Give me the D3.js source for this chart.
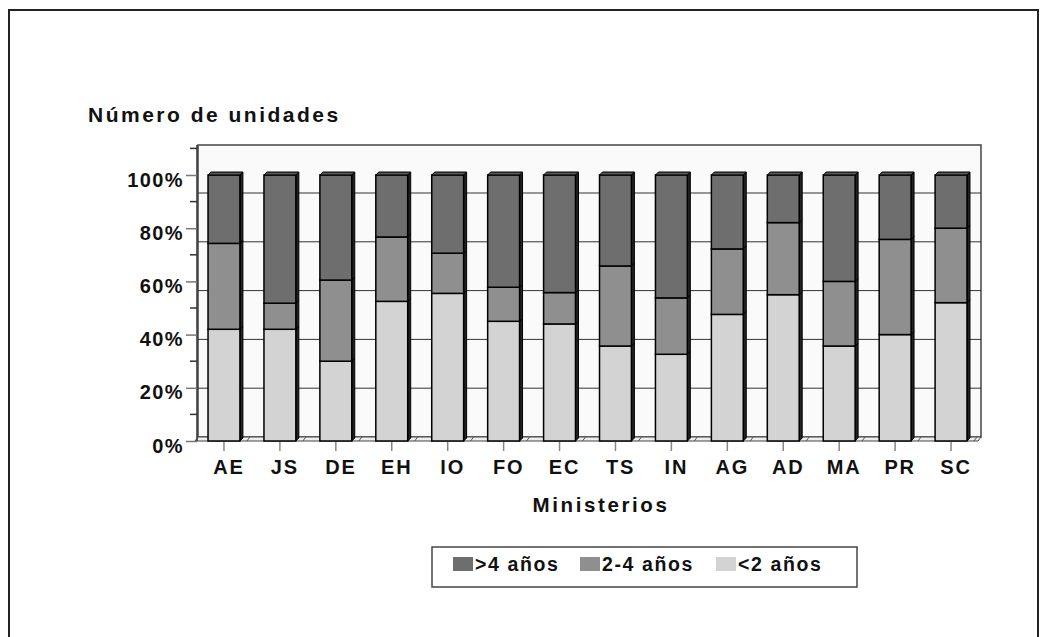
<!DOCTYPE html>
<html>
<head>
<meta charset="utf-8">
<script src="https://cdn.jsdelivr.net/npm/d3@7"></script>
<style>
  body { margin: 0; background: #fff; }
  text { font-family: "Liberation Sans", Arial, sans-serif; font-weight: bold; fill: #111; }
</style>
</head>
<body>
<div id="chart"></div>
<script>
// data (percent of units per ministry)
var ministerios = ["AE","JS","DE","EH","IO","FO","EC","TS","IN","AG","AD","MA","PR","SC"];
var menos2 = [42, 42, 30, 52.5, 55.5, 45, 44, 35.7, 32.6, 47.6, 55, 35.7, 40, 52];
var dos4   = [32.3, 9.8, 30.5, 24.2, 15.1, 12.8, 11.8, 30.1, 21.2, 24.6, 27.1, 24.3, 35.8, 28];
var mas4   = [25.7, 48.2, 39.5, 23.3, 29.4, 42.2, 44.2, 34.2, 46.2, 27.8, 17.9, 40, 24.2, 20];
var seriesNames = ["<2 años", "2-4 años", ">4 años"];
var legendOrder = [">4 años", "2-4 años", "<2 años"];
var yTicks = [0, 20, 40, 60, 80, 100];

var colors = { "<2 años": "#d3d3d3", "2-4 años": "#8f8f8f", ">4 años": "#6e6e6e" };

var svgWidth = 1040, svgHeight = 637;

var svg = d3.select("#chart")
  .append("svg")
  .attr("width", svgWidth)
  .attr("height", svgHeight);

// outer frame
svg.append("rect")
  .attr("x", 9).attr("y", 10)
  .attr("width", 1029).attr("height", 700)
  .attr("fill", "none")
  .attr("stroke", "#222")
  .attr("stroke-width", 2);

// table for the stack
var table = ministerios.map(function(m, i) {
  return { cat: m, "<2 años": menos2[i], "2-4 años": dos4[i], ">4 años": mas4[i] };
});
var stacked = d3.stack().keys(seriesNames)(table);

// scales
var x = d3.scaleBand().domain(ministerios).range([196, 979]).paddingInner(0.43).paddingOuter(0.215);
var yFront = d3.scaleLinear().domain([0, 100]).range([441, 175]);   // bars + axis
var yWall = d3.scaleLinear().domain([0, 100]).range([437, 193]);    // back wall gridlines

// back wall
svg.append("rect")
  .attr("x", 198).attr("y", 145)
  .attr("width", 783).attr("height", yWall(0) - 145)
  .attr("fill", "#fafafa")
  .attr("stroke", "#444")
  .attr("stroke-width", 1.5);

// gridlines
svg.append("g").selectAll("line")
  .data(yTicks.slice(1))
  .enter().append("line")
  .attr("x1", 198).attr("x2", 981)
  .attr("y1", d => yWall(d)).attr("y2", d => yWall(d))
  .attr("stroke", "#333").attr("stroke-width", 1);

// floor
var floor = svg.append("g");
floor.append("polygon")
  .attr("points", [[198, yWall(0)], [981, yWall(0)], [978, yFront(0)], [195, yFront(0)]].join(" "))
  .attr("fill", "#eee").attr("stroke", "#444").attr("stroke-width", 1);
floor.selectAll("line.hatch")
  .data(ministerios)
  .enter().append("line")
  .attr("x1", d => x(d) + x.bandwidth() + 10).attr("y1", yWall(0))
  .attr("x2", d => x(d) + x.bandwidth() + 7).attr("y2", yFront(0))
  .attr("stroke", "#555").attr("stroke-width", 1);

// left axis
var leftAxis = d3.axisLeft(yFront).tickValues(yTicks).tickSize(11).tickFormat(d => d + "%");
var yAxisG = svg.append("g").attr("transform", "translate(197,0)").call(leftAxis);
yAxisG.select(".domain").attr("d", "M0," + yFront(0) + "V145").attr("stroke", "#333").attr("stroke-width", 1.5);
yAxisG.selectAll(".tick line").attr("stroke", "#777").attr("stroke-width", 1.5);
yAxisG.selectAll(".tick text")
  .attr("x", -13)
  .attr("dy", "0.55em")
  .style("font-size", "20px")
  .style("letter-spacing", "1.4px");

// minor ticks
var minor = d3.range(10, 111, 20);
svg.append("g").selectAll("line")
  .data(minor)
  .enter().append("line")
  .attr("x1", 190).attr("x2", 197)
  .attr("y1", d => yFront(d)).attr("y2", d => yFront(d))
  .attr("stroke", "#333").attr("stroke-width", 1.5);

// bottom axis
var bottomAxis = d3.axisBottom(x).tickSize(9).tickSizeOuter(0);
var xAxisG = svg.append("g").attr("transform", "translate(0," + (yFront(0) + 1) + ")").call(bottomAxis);
xAxisG.select(".domain").remove();
xAxisG.selectAll(".tick line").attr("stroke", "#888").attr("stroke-width", 1.5);
xAxisG.selectAll(".tick text")
  .attr("y", 18)
  .attr("dx", 5)
  .attr("dy", "0.71em")
  .style("font-size", "20px")
  .style("letter-spacing", "1.8px");

// bars, with a little 3D look
var depth = 3;
var layers = svg.append("g").selectAll("g")
  .data(stacked)
  .enter().append("g");

layers.selectAll("polygon.side")
  .data(d => d.map(s => ({ s: s, key: d.key })))
  .enter().append("polygon")
  .attr("points", function(d) {
    var x0 = x(d.s.data.cat) + x.bandwidth();
    var y0 = yFront(d.s[1]), y1 = yFront(d.s[0]);
    return [[x0, y0], [x0 + depth, y0 - depth], [x0 + depth, y1 - depth], [x0, y1]].join(" ");
  })
  .attr("fill", "#222").attr("stroke", "#000").attr("stroke-width", 1);

layers.selectAll("rect")
  .data(d => d.map(s => ({ s: s, key: d.key })))
  .enter().append("rect")
  .attr("x", d => x(d.s.data.cat))
  .attr("y", d => yFront(d.s[1]))
  .attr("width", x.bandwidth())
  .attr("height", d => yFront(d.s[0]) - yFront(d.s[1]))
  .attr("fill", d => colors[d.key])
  .attr("stroke", "#000")
  .attr("stroke-width", 1.5);

// top caps
svg.append("g").selectAll("polygon")
  .data(ministerios)
  .enter().append("polygon")
  .attr("points", function(d) {
    var x0 = x(d), x1 = x(d) + x.bandwidth(), yt = yFront(100);
    return [[x0, yt], [x0 + depth, yt - depth], [x1 + depth, yt - depth], [x1, yt]].join(" ");
  })
  .attr("fill", "#555").attr("stroke", "#000").attr("stroke-width", 1);

// titles
svg.append("text")
  .attr("x", 88).attr("y", 122)
  .style("font-size", "21px")
  .style("letter-spacing", "2.5px")
  .text("Número de unidades");

svg.append("text")
  .attr("x", 601).attr("y", 512)
  .attr("text-anchor", "middle")
  .style("font-size", "20.5px")
  .style("letter-spacing", "2.6px")
  .text("Ministerios");

// legend
var legend = svg.append("g");
legend.append("rect")
  .attr("x", 432).attr("y", 547)
  .attr("width", 425).attr("height", 40)
  .attr("fill", "#fff")
  .attr("stroke", "#444")
  .attr("stroke-width", 1.5);

var legendX = [453, 580, 716];
var items = legend.selectAll("g.item")
  .data(legendOrder)
  .enter().append("g")
  .attr("transform", (d, i) => "translate(" + legendX[i] + ",557)");
items.append("rect")
  .attr("width", 20).attr("height", 14)
  .attr("fill", d => colors[d]);
items.append("text")
  .attr("x", 22).attr("y", 14)
  .style("font-size", "19.5px")
  .style("letter-spacing", "1.6px")
  .text(d => d);
</script>
</body>
</html>
